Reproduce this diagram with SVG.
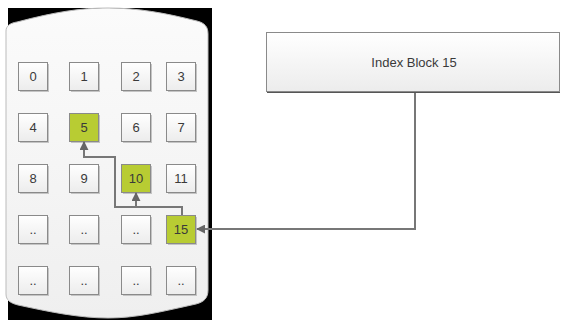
<svg xmlns="http://www.w3.org/2000/svg" width="561" height="320" viewBox="0 0 561 320">
<style>
.box{fill:url(#g);stroke:#8a8a8a;stroke-width:1}
.gbox{fill:#b8cc33;stroke:#8a8a8a;stroke-width:1}
.sh{fill:#c4c4c4}
.t{font-family:"Liberation Sans",Arial,sans-serif;font-size:13px;fill:#3a3a3a;text-anchor:middle}
.c{fill:none;stroke:#777;stroke-width:2;marker-end:url(#ah)}
</style>
<defs>
<linearGradient id="g" x1="0" y1="0" x2="0" y2="1"><stop offset="0" stop-color="#ffffff"/><stop offset="1" stop-color="#ececec"/></linearGradient>
<linearGradient id="dg" x1="0" y1="0" x2="0" y2="1"><stop offset="0" stop-color="#fbfbfb"/><stop offset="1" stop-color="#efefef"/></linearGradient>
<marker id="ah" viewBox="0 0 10 10" refX="9" refY="5" markerWidth="4.5" markerHeight="4.5" orient="auto" markerUnits="strokeWidth"><path d="M0,0 L10,5 L0,10 Z" fill="#666"/></marker>
</defs>
<rect width="561" height="320" fill="#fff"/>
<g id="disk">
<rect x="8" y="8" width="204" height="312" fill="#000"/>
<path d="M6,31 C6,26 10,23 17,22 C55,12 80,8 108,8 C138,8 165,13 197,21 C205,23 208,27 208,34 L208,290 C208,298 204,302 196,304 C160,312 136,318 108,318 C80,318 50,312 18,305 C10,303 6,300 6,294 Z" fill="url(#dg)" stroke="#bbb" stroke-width="1"/>
</g>
<g id="b0"><rect class="sh" x="20" y="64" width="29" height="28"/><rect class="box" x="18.5" y="62.5" width="29" height="28"/><text class="t" x="33" y="81">0</text></g>
<g id="b1"><rect class="sh" x="71" y="64" width="29" height="28"/><rect class="box" x="69.5" y="62.5" width="29" height="28"/><text class="t" x="84" y="81">1</text></g>
<g id="b2"><rect class="sh" x="123" y="64" width="29" height="28"/><rect class="box" x="121.5" y="62.5" width="29" height="28"/><text class="t" x="136" y="81">2</text></g>
<g id="b3"><rect class="sh" x="168" y="64" width="29" height="28"/><rect class="box" x="166.5" y="62.5" width="29" height="28"/><text class="t" x="181" y="81">3</text></g>
<g id="b4"><rect class="sh" x="20" y="115" width="29" height="28"/><rect class="box" x="18.5" y="113.5" width="29" height="28"/><text class="t" x="33" y="132">4</text></g>
<g id="b5"><rect class="sh" x="71" y="115" width="29" height="28"/><rect class="gbox" x="69.5" y="113.5" width="29" height="28"/><text class="t" x="84" y="132">5</text></g>
<g id="b6"><rect class="sh" x="123" y="115" width="29" height="28"/><rect class="box" x="121.5" y="113.5" width="29" height="28"/><text class="t" x="136" y="132">6</text></g>
<g id="b7"><rect class="sh" x="168" y="115" width="29" height="28"/><rect class="box" x="166.5" y="113.5" width="29" height="28"/><text class="t" x="181" y="132">7</text></g>
<g id="b8"><rect class="sh" x="20" y="166" width="29" height="28"/><rect class="box" x="18.5" y="164.5" width="29" height="28"/><text class="t" x="33" y="183">8</text></g>
<g id="b9"><rect class="sh" x="71" y="166" width="29" height="28"/><rect class="box" x="69.5" y="164.5" width="29" height="28"/><text class="t" x="84" y="183">9</text></g>
<g id="b10"><rect class="sh" x="123" y="166" width="29" height="28"/><rect class="gbox" x="121.5" y="164.5" width="29" height="28"/><text class="t" x="136" y="183">10</text></g>
<g id="b11"><rect class="sh" x="168" y="166" width="29" height="28"/><rect class="box" x="166.5" y="164.5" width="29" height="28"/><text class="t" x="181" y="183">11</text></g>
<g id="b12"><rect class="sh" x="20" y="217" width="29" height="28"/><rect class="box" x="18.5" y="215.5" width="29" height="28"/><text class="t" x="33" y="234">..</text></g>
<g id="b13"><rect class="sh" x="71" y="217" width="29" height="28"/><rect class="box" x="69.5" y="215.5" width="29" height="28"/><text class="t" x="84" y="234">..</text></g>
<g id="b14"><rect class="sh" x="123" y="217" width="29" height="28"/><rect class="box" x="121.5" y="215.5" width="29" height="28"/><text class="t" x="136" y="234">..</text></g>
<g id="b15"><rect class="sh" x="168" y="217" width="29" height="28"/><rect class="gbox" x="166.5" y="215.5" width="29" height="28"/><text class="t" x="181" y="234">15</text></g>
<g id="b16"><rect class="sh" x="20" y="268" width="29" height="28"/><rect class="box" x="18.5" y="266.5" width="29" height="28"/><text class="t" x="33" y="285">..</text></g>
<g id="b17"><rect class="sh" x="71" y="268" width="29" height="28"/><rect class="box" x="69.5" y="266.5" width="29" height="28"/><text class="t" x="84" y="285">..</text></g>
<g id="b18"><rect class="sh" x="123" y="268" width="29" height="28"/><rect class="box" x="121.5" y="266.5" width="29" height="28"/><text class="t" x="136" y="285">..</text></g>
<g id="b19"><rect class="sh" x="168" y="268" width="29" height="28"/><rect class="box" x="166.5" y="266.5" width="29" height="28"/><text class="t" x="181" y="285">..</text></g>
<g id="index">
<rect x="267" y="34" width="293" height="59" fill="#555"/>
<rect class="box" x="266.5" y="32.5" width="293" height="59"/>
<text class="t" x="414" y="67">Index Block 15</text>
</g>
<g id="connectors">
<path class="c" d="M415,93 V229 H197"/>
<path class="c" d="M182,215 V207 H136 V193"/>
<path class="c" d="M182,215 V207 H115 V157 H84 V142"/>
</g>
</svg>
